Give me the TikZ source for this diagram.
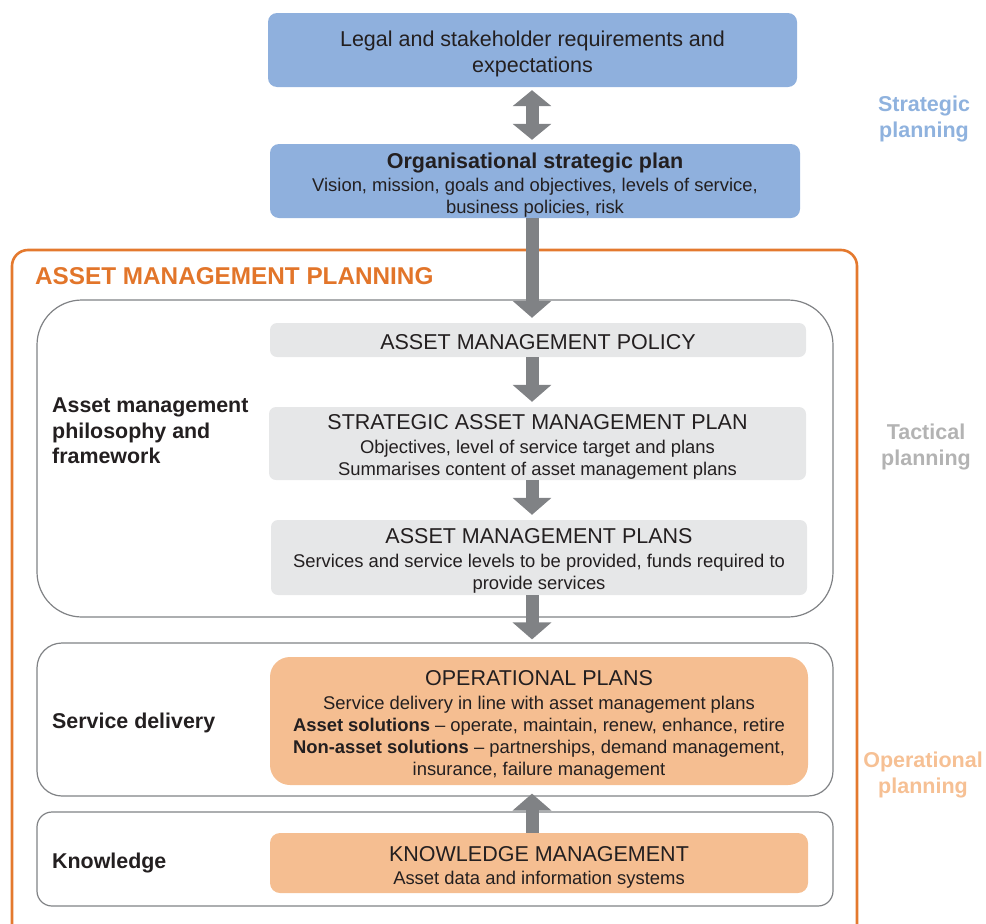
\documentclass[tikz,border=0pt]{standalone}
\usepackage{fontspec}
\setmainfont{Liberation Sans}
\usetikzlibrary{arrows.meta}

\definecolor{boxblue}{RGB}{143,176,221}
\definecolor{boxgray}{RGB}{230,231,232}
\definecolor{boxorange}{RGB}{245,190,145}
\definecolor{frameorange}{RGB}{228,121,46}
\definecolor{titleorange}{RGB}{226,117,42}
\definecolor{linegray}{RGB}{128,130,133}
\definecolor{arrowgray}{RGB}{128,130,133}
\definecolor{ink}{RGB}{35,31,32}
\definecolor{stratblue}{RGB}{143,178,222}
\definecolor{tactgray}{RGB}{179,179,179}
\definecolor{operorange}{RGB}{246,192,148}

\newcommand{\headfont}{\fontsize{21.5}{26}\selectfont}
\newcommand{\bodyfont}{\fontsize{18.4}{22}\selectfont}
\newcommand{\hd}[1]{{\headfont #1}\\[1.5pt]}

\tikzset{
  planbox/.style={rectangle, inner sep=0pt},
  bluebox/.style={planbox, fill=boxblue, rounded corners=9pt},
  graybox/.style={planbox, fill=boxgray, rounded corners=7pt},
  orangebox/.style={planbox, fill=boxorange},
  boxtext/.style={inner sep=0pt, align=center, text=ink, font=\bodyfont},
  layerbox/.style={rectangle, draw=linegray, line width=1.2pt, inner sep=0pt},
  layerlabel/.style={anchor=west, inner sep=0pt, align=left, text=ink, font=\fontsize{21.4}{25.5}\selectfont\bfseries},
  sidelabel/.style={align=center, inner sep=0pt, font=\fontsize{21.5}{26}\selectfont\bfseries},
  flow/.style={draw=arrowgray, line width=13pt, -{Triangle[width=38pt,length=17pt]}},
  flowboth/.style={draw=arrowgray, line width=13pt, {Triangle[width=38pt,length=16pt]}-{Triangle[width=38pt,length=16pt]}}
}

\begin{document}
\begin{tikzpicture}[x=1pt,y=-1pt]
\useasboundingbox (0,0) rectangle (986,924);

% x position of the arrow column
\coordinate (ax) at (532,0);

% outer asset management planning frame
\draw[frameorange, line width=2.6pt, rounded corners=16pt] (12,250) rectangle (857,945);
\node[anchor=west, text=titleorange, font=\fontsize{24.3}{28}\selectfont\bfseries, inner sep=0pt] (amtitle) at (35,276) {ASSET MANAGEMENT PLANNING};

% layers
\node[layerbox, rounded corners=45pt, minimum width=796, minimum height=317] (tact) at (435,458.5) {};
\node[layerbox, rounded corners=25pt, minimum width=796, minimum height=153] (sd) at (435,719.5) {};
\node[layerbox, rounded corners=15pt, minimum width=796, minimum height=94] (kn) at (435,859) {};

% strategic boxes
\node[bluebox, minimum width=529, minimum height=74] (top) at (532.5,50) {};
\node[boxtext, font=\headfont] (top-t) at ([yshift=-3.5pt]top.center)
  {Legal and stakeholder requirements and\\expectations};
\node[bluebox, minimum width=530, minimum height=74] (org) at (535,181) {};
\node[boxtext] (org-t) at ([yshift=-4pt]org.center)
  {{\headfont\bfseries Organisational strategic plan}\\[1.5pt]
   Vision, mission, goals and objectives, levels of service,\\
   business policies, risk};

% tactical boxes
\node[graybox, minimum width=536, minimum height=34] (pol) at (538,340) {};
\node[boxtext, font=\headfont] (pol-t) at ([yshift=-2.5pt]pol.center)
  {ASSET MANAGEMENT POLICY};
\node[graybox, minimum width=537, minimum height=73] (samp) at (537.5,443.5) {};
\node[boxtext] (samp-t) at ([yshift=-3.5pt]samp.center)
  {\hd{STRATEGIC ASSET MANAGEMENT PLAN}
   Objectives, level of service target and plans\\
   Summarises content of asset management plans};
\node[graybox, minimum width=536, minimum height=75] (amp) at (539,557.5) {};
\node[boxtext] (amp-t) at ([yshift=-3.5pt]amp.center)
  {\hd{ASSET MANAGEMENT PLANS}
   Services and service levels to be provided, funds required to\\
   provide services};

% operational boxes
\node[orangebox, rounded corners=20pt, minimum width=538, minimum height=128] (ops) at (539,721) {};
\node[boxtext] (ops-t) at ([yshift=-4pt]ops.center)
  {\hd{OPERATIONAL PLANS}
   Service delivery in line with asset management plans\\
   \textbf{Asset solutions} \textendash\ operate, maintain, renew, enhance, retire\\
   \textbf{Non-asset solutions} \textendash\ partnerships, demand management,\\
   insurance, failure management};
\node[orangebox, rounded corners=10pt, minimum width=538, minimum height=60] (km) at (539,863) {};
\node[boxtext] (km-t) at ([yshift=-4.5pt]km.center)
  {\hd{KNOWLEDGE MANAGEMENT}
   Asset data and information systems};

% layer labels
\node[layerlabel] (lphil) at (52,431) {Asset management\\philosophy and\\framework};
\node[layerlabel] (lsd) at (52,723) {Service delivery};
\node[layerlabel] (lkn) at (52,863) {Knowledge};

% planning level labels
\node[sidelabel, text=stratblue] (lstrat) at (924,119) {Strategic\\planning};
\node[sidelabel, text=tactgray] (ltact) at (926,447) {Tactical\\planning};
\node[sidelabel, text=operorange] (loper) at (923,775) {Operational\\planning};

% flow arrows
\draw[flowboth, shorten <=3pt, shorten >=4pt] (top.south -| ax) -- (org.north -| ax);
\draw[flow, shorten >=5pt] (org.south -| ax) -- (pol.north -| ax);
\draw[flow, shorten >=5pt] (pol.south -| ax) -- (samp.north -| ax);
\draw[flow, shorten >=5pt] (samp.south -| ax) -- (amp.north -| ax);
\draw[flow, shorten >=3pt] (amp.south -| ax) -- (sd.north -| ax);
\draw[flow, shorten >=-3pt] (km.north -| ax) -- (sd.south -| ax);
\end{tikzpicture}
\end{document}
